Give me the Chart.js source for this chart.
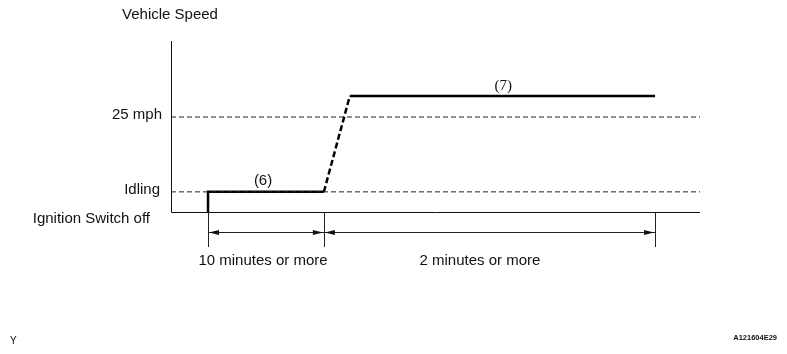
<!DOCTYPE html>
<html>
<head>
<meta charset="utf-8">
<script src="https://cdn.jsdelivr.net/npm/chart.js@4"></script>
<style>
  html, body { margin: 0; padding: 0; background: #fff; }
  #wrap { width: 787px; height: 354px; position: relative; }
</style>
</head>
<body>
<div id="wrap"><canvas id="c"></canvas></div>
<script>
// Schematic speed levels (mph-like units)
const speedLevelNames = ['Ignition Switch off', 'Idling', '25 mph'];
const speedLevelValues = [0, 5.3, 25];
const cruiseSpeed = 30.5;
const speedMax = 45;

// Schematic time positions along the procedure
const timeMarks = [7, 28.9, 91.5];      // engine start, drive-off, end of drive
const rampEndTime = 33.8;                // reaching cruise speed
const timeMax = 100;

// Speed profile: idling (6), then driving (7)
const profileX = [timeMarks[0], timeMarks[0], timeMarks[1], rampEndTime, timeMarks[2]];
const profileY = [0, speedLevelValues[1], speedLevelValues[1], cruiseSpeed, cruiseSpeed];

// Step labels and durations
const stepLabels = ['(6)', '(7)'];
const stepLabelX = [17.4, 62.8];
const durationLabels = ['10 minutes or more', '2 minutes or more'];
const durationLabelX = [17.4, 58.4];

const axisTitle = 'Vehicle Speed';
const footLeft = 'Y';
const footRight = 'A121604E29';

const SANS = '"Liberation Sans", Arial, sans-serif';
const SERIF = '"Liberation Serif", "Times New Roman", serif';

const profile = profileX.map((x, i) => ({ x, y: profileY[i] }));
const refLine = v => [{ x: 0, y: v }, { x: timeMax, y: v }];

const drawing = {
  id: 'drawing',
  beforeDatasetsDraw(chart) {
    const { ctx, scales: { x, y } } = chart;
    const x0 = x.getPixelForValue(0), x1 = x.getPixelForValue(timeMax);
    const y0 = y.getPixelForValue(0), yTop = y.getPixelForValue(speedMax);
    ctx.save();
    ctx.strokeStyle = '#111';
    ctx.lineWidth = 1;
    ctx.beginPath();
    ctx.moveTo(Math.round(x0) + 0.5, yTop);
    ctx.lineTo(Math.round(x0) + 0.5, Math.round(y0) + 0.5);
    ctx.lineTo(x1, Math.round(y0) + 0.5);
    ctx.stroke();
    ctx.restore();
  },
  afterDatasetsDraw(chart) {
    const { ctx, scales: { x, y } } = chart;
    const y0 = y.getPixelForValue(0);
    const axisX = x.getPixelForValue(0);
    ctx.save();

    // dimension lines below the time axis
    const tickBottom = y0 + 35;
    const arrowY = Math.round(y0 + 20) + 0.5;
    ctx.strokeStyle = '#222';
    ctx.fillStyle = '#111';
    ctx.lineWidth = 1;
    ctx.beginPath();
    timeMarks.forEach(t => {
      const px = Math.round(x.getPixelForValue(t)) + 0.5;
      ctx.moveTo(px, y0);
      ctx.lineTo(px, tickBottom);
    });
    const ax0 = x.getPixelForValue(timeMarks[0]);
    const ax1 = x.getPixelForValue(timeMarks[timeMarks.length - 1]);
    ctx.moveTo(ax0, arrowY);
    ctx.lineTo(ax1, arrowY);
    ctx.stroke();

    const arrow = (tip, dir) => {
      ctx.beginPath();
      ctx.moveTo(tip, arrowY);
      ctx.lineTo(tip + dir * 10, arrowY - 2.5);
      ctx.lineTo(tip + dir * 10, arrowY + 2.5);
      ctx.closePath();
      ctx.fill();
    };
    for (let i = 0; i < timeMarks.length - 1; i++) {
      arrow(x.getPixelForValue(timeMarks[i]) + 1, 1);
      arrow(x.getPixelForValue(timeMarks[i + 1]) - 1, -1);
    }

    // speed level labels
    ctx.fillStyle = '#111';
    ctx.font = '15px ' + SANS;
    ctx.textBaseline = 'middle';
    ctx.textAlign = 'right';
    ctx.fillText(speedLevelNames[2], axisX - 9, y.getPixelForValue(speedLevelValues[2]) - 2);
    ctx.fillText(speedLevelNames[1], axisX - 11, y.getPixelForValue(speedLevelValues[1]) - 2);
    ctx.fillText(speedLevelNames[0], axisX - 21, y0 + 7);

    // axis title
    ctx.textAlign = 'center';
    ctx.fillText(axisTitle, axisX - 1, 15);

    // step labels
    ctx.fillText(stepLabels[0], x.getPixelForValue(stepLabelX[0]), y.getPixelForValue(speedLevelValues[1]) - 11);
    ctx.font = '15px ' + SERIF;
    ctx.fillText(stepLabels[1], x.getPixelForValue(stepLabelX[1]), y.getPixelForValue(cruiseSpeed) - 10);

    // duration labels
    ctx.font = '15px ' + SANS;
    durationLabels.forEach((t, i) => {
      ctx.fillText(t, x.getPixelForValue(durationLabelX[i]), y0 + 49);
    });

    // footer marks
    ctx.textAlign = 'left';
    ctx.font = '10px ' + SANS;
    ctx.fillText(footLeft, 10, 341);
    ctx.font = 'bold 7.5px ' + SANS;
    ctx.textAlign = 'right';
    ctx.fillText(footRight, 777, 338);
    ctx.restore();
  }
};

new Chart(document.getElementById('c'), {
  type: 'line',
  data: {
    datasets: [
      {
        data: refLine(speedLevelValues[2]),
        borderColor: '#222', borderWidth: 1, borderDash: [5, 3],
        pointRadius: 0, fill: false
      },
      {
        data: refLine(speedLevelValues[1]),
        borderColor: '#222', borderWidth: 1, borderDash: [5, 3],
        pointRadius: 0, fill: false
      },
      {
        data: profile,
        borderColor: '#000', borderWidth: 2.5,
        pointRadius: 0, fill: false, tension: 0,
        borderCapStyle: 'butt', borderJoinStyle: 'miter',
        segment: {
          borderDash: c => (c.p0DataIndex === 2 ? [6, 3] : undefined)
        }
      }
    ]
  },
  options: {
    responsive: true,
    maintainAspectRatio: false,
    animation: false,
    devicePixelRatio: 1,
    layout: { padding: { left: 171, right: 87, top: 41, bottom: 142 } },
    plugins: { legend: { display: false }, tooltip: { enabled: false }, title: { display: false } },
    scales: {
      x: { type: 'linear', min: 0, max: timeMax, display: false },
      y: { type: 'linear', min: 0, max: speedMax, display: false }
    }
  },
  plugins: [drawing]
});
</script>
</body>
</html>
